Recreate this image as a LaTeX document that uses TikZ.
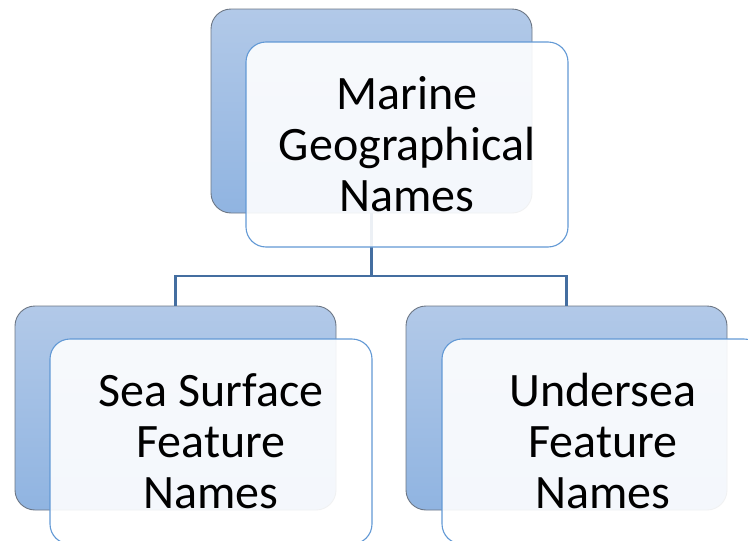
\documentclass[tikz,border=0pt]{standalone}
\usepackage{fontspec}
\setmainfont{Carlito}
\definecolor{backtop}{RGB}{178,201,232}
\definecolor{backbot}{RGB}{144,180,225}
\definecolor{backline}{RGB}{108,118,132}
\definecolor{frontline}{RGB}{98,153,213}
\definecolor{linkcol}{RGB}{68,110,160}
\begin{document}
\begin{tikzpicture}[x=1pt,y=-1pt,
  backbox/.style={draw=backline, line width=0.9pt, rounded corners=20pt,
    top color=backtop, bottom color=backbot,
    minimum width=321pt, minimum height=204pt,
    inner sep=0pt, outer sep=0pt, anchor=north west},
  frontbox/.style={draw=frontline, line width=1.1pt, rounded corners=20pt,
    fill=white, fill opacity=0.9, text opacity=1, text=black,
    minimum width=322pt, minimum height=205pt,
    inner sep=0pt, outer sep=0pt, anchor=north west, align=center,
    font=\fontsize{48}{51}\selectfont},
  link/.style={draw=linkcol, line width=2.2pt}]
\useasboundingbox (0,0) rectangle (748,541);
\clip (0,0) rectangle (748,541);
% shaded back plates
\node[backbox] (rootback)  at (211,9)   {};
\node[backbox] (leftback)  at (15,306)  {};
\node[backbox] (rightback) at (406,306) {};
% tree connectors
\coordinate (bus) at (371.5,276);
\draw[link] (rootback.south) -- (bus) -| (leftback.north);
\draw[link] (bus) -| (rightback.north);
% text cards
\node[frontbox] (root)  at (246,42)  {Marine\\Geographical\\Names};
\node[frontbox] (left)  at (50,339)  {Sea Surface\\Feature\\Names};
\node[frontbox] (right) at (442,339) {Undersea\\Feature\\Names};
\end{tikzpicture}
\end{document}
